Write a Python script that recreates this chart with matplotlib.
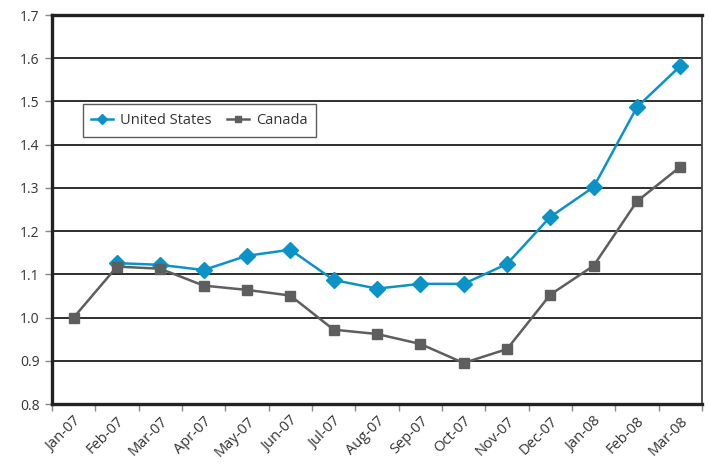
import matplotlib
matplotlib.use("Agg")
import matplotlib.pyplot as plt
import numpy as np

months = ["Jan-07", "Feb-07", "Mar-07", "Apr-07", "May-07", "Jun-07", "Jul-07",
          "Aug-07", "Sep-07", "Oct-07", "Nov-07", "Dec-07", "Jan-08", "Feb-08", "Mar-08"]
# US series has no marker at the base month; it starts from Feb-07
us = [np.nan, 1.126, 1.122, 1.110, 1.143, 1.157, 1.087, 1.067, 1.078, 1.078,
      1.124, 1.233, 1.302, 1.487, 1.582]
canada = [1.000, 1.118, 1.113, 1.074, 1.064, 1.051, 0.972, 0.962, 0.939, 0.895,
          0.927, 1.053, 1.120, 1.269, 1.349]
y_ticks = [0.8, 0.9, 1.0, 1.1, 1.2, 1.3, 1.4, 1.5, 1.6, 1.7]

plt.rcParams["font.family"] = ["Open Sans", "DejaVu Sans"]

fig = plt.figure(figsize=(7.1, 4.7), dpi=100)
ax = fig.add_axes([0.0732, 0.1404, 0.9155, 0.8276])

x = np.arange(len(months))
ax.plot(x, us, color="#0b93c8", lw=1.8, marker="D", ms=8, label="United States", zorder=3)
ax.plot(x, canada, color="#5e5e5e", lw=1.8, marker="s", ms=7.5, label="Canada", zorder=4)

ax.set_xlim(-0.5, len(months) - 0.5)
ax.set_ylim(0.8, 1.7)
ax.set_yticks(y_ticks)
ax.set_yticklabels([f"{v:.1f}" for v in y_ticks], fontsize=10, color="#333333")
for v in y_ticks[1:-1]:
    ax.axhline(v, color="#1e1e1e", lw=1.3, zorder=1)

ax.set_xticks(x)
ax.set_xticklabels(months, rotation=45, ha="right", rotation_mode="anchor",
                   fontsize=10.5, color="#333333")
ax.set_xticks(np.arange(-0.5, len(months)), minor=True)
ax.tick_params(axis="x", which="major", length=0, pad=7)
ax.tick_params(axis="x", which="minor", length=5, width=1, color="#888888")
ax.tick_params(axis="y", length=5, width=1, color="#888888", pad=4)

for side in ["left", "bottom", "top"]:
    ax.spines[side].set_linewidth(2.4)
    ax.spines[side].set_color("#222222")
ax.spines["right"].set_linewidth(1.3)
ax.spines["right"].set_color("#444444")

leg = ax.legend(loc="lower left", bbox_to_anchor=(0.036, 0.668), ncol=2,
                fontsize=10.5, frameon=True, fancybox=False, handlelength=1.5,
                handletextpad=0.45, columnspacing=1.1, borderpad=0.6,
                markerscale=0.65)
leg.get_frame().set_edgecolor("#333333")
leg.get_frame().set_linewidth(1.0)
for t in leg.get_texts():
    t.set_color("#333333")

fig.savefig("out.png", dpi=100)
